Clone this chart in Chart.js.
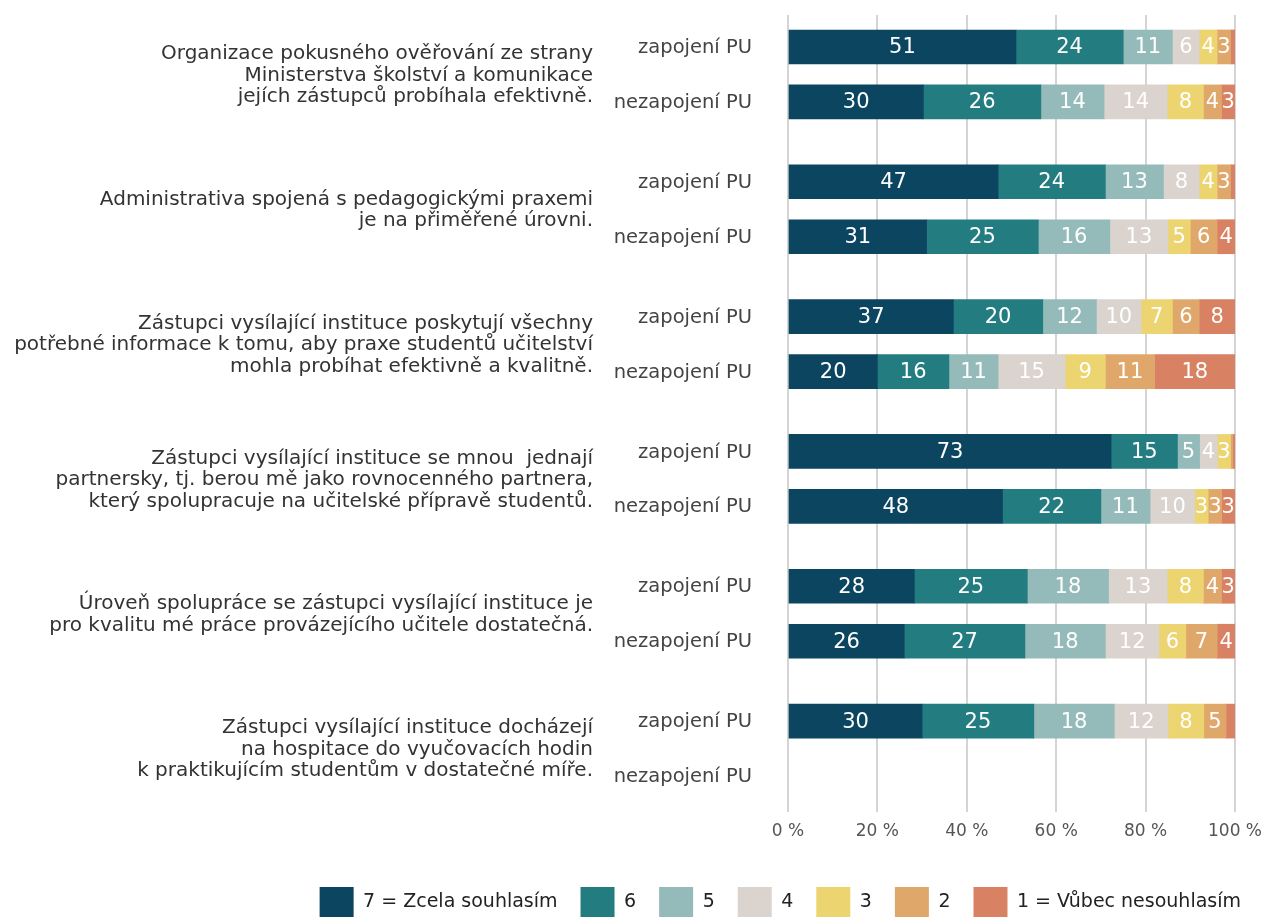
<!DOCTYPE html>
<html lang="cs">
<head>
<meta charset="utf-8">
<title>Spolupráce s vysílající institucí</title>
<script src="https://cdn.jsdelivr.net/npm/chart.js@4.4.1/dist/chart.umd.min.js"></script>
<style>
  html, body { margin: 0; padding: 0; background: #ffffff; }
  #wrap { width: 1264px; height: 918px; }
</style>
</head>
<body>
<div id="wrap"><canvas id="chart" width="1264" height="918"></canvas></div>
<script>
// Statements (each drawn as a right-aligned block of lines)
const statements = [
  ['Organizace pokusného ověřování ze strany', 'Ministerstva školství a komunikace', 'jejích zástupců probíhala efektivně.'],
  ['Administrativa spojená s pedagogickými praxemi', 'je na přiměřené úrovni.'],
  ['Zástupci vysílající instituce poskytují všechny', 'potřebné informace k tomu, aby praxe studentů učitelství', 'mohla probíhat efektivně a kvalitně.'],
  ['Zástupci vysílající instituce se mnou  jednají', 'partnersky, tj. berou mě jako rovnocenného partnera,', 'který spolupracuje na učitelské přípravě studentů.'],
  ['Úroveň spolupráce se zástupci vysílající instituce je', 'pro kvalitu mé práce provázejícího učitele dostatečná.'],
  ['Zástupci vysílající instituce docházejí', 'na hospitace do vyučovacích hodin', 'k praktikujícím studentům v dostatečné míře.']
];

// Respondent groups within each statement
const respondentGroups = ['zapojení PU', 'nezapojení PU'];

// Scale levels and their colours
const levels = ['7 = Zcela souhlasím', '6', '5', '4', '3', '2', '1 = Vůbec nesouhlasím'];
const levelColors = ['#0b4560', '#227c80', '#94bbb9', '#dad3ce', '#ecd471', '#e0a76b', '#d98163'];

// Shares in % per row: statement 1 zapojení, statement 1 nezapojení, statement 2 zapojení, ...
const level7 = [51, 30, 47, 31, 37, 20, 73, 48, 28, 26, 30, null];
const level6 = [24, 26, 24, 25, 20, 16, 15, 22, 25, 27, 25, null];
const level5 = [11, 14, 13, 16, 12, 11, 5, 11, 18, 18, 18, null];
const level4 = [6, 14, 8, 13, 10, 15, 4, 10, 13, 12, 12, null];
const level3 = [4, 8, 4, 5, 7, 9, 3, 3, 8, 6, 8, null];
const level2 = [3, 4, 3, 6, 6, 11, 0.5, 3, 4, 7, 5, null];
const level1 = [1, 3, 1, 4, 8, 18, 0.5, 3, 3, 4, 2, null];

const xTicks = [0, 20, 40, 60, 80, 100];

const levelValues = [level7, level6, level5, level4, level3, level2, level1];
const rowCount = level7.length;

// Vertical placement of rows: two rows per statement, wider gap between statements
const ROW_STEP = 55, GROUP_STEP = 135;
const rowPos = i => Math.floor(i / 2) * GROUP_STEP + (i % 2) * ROW_STEP;

// Row totals, so each answered row fills the full 100 % bar
const rowTotals = Array.from({ length: rowCount }, (_, i) =>
  levelValues.reduce((s, arr) => s + (arr[i] == null ? 0 : arr[i]), 0));

const datasets = levelValues.map((arr, k) => ({
  label: levels[k],
  backgroundColor: levelColors[k],
  borderWidth: 0,
  barThickness: 34,
  data: arr.map((v, i) => v == null ? null : ({ x: v / rowTotals[i] * 100, y: rowPos(i), v: v }))
        .filter(d => d !== null)
}));

const FONT = '"DejaVu Sans", "Noto Sans", sans-serif';

// Value labels inside the bar segments
const segmentLabels = {
  id: 'segmentLabels',
  afterDatasetsDraw(chart) {
    const ctx = chart.ctx;
    ctx.save();
    ctx.font = '21px ' + FONT;
    ctx.fillStyle = '#ffffff';
    ctx.textAlign = 'center';
    ctx.textBaseline = 'middle';
    chart.data.datasets.forEach((ds, di) => {
      const meta = chart.getDatasetMeta(di);
      meta.data.forEach((bar, j) => {
        const v = ds.data[j].v;
        if (v == null || v < 3) return;
        const p = bar.getProps(['x', 'base', 'y'], true);
        ctx.fillText(String(v), (p.x + p.base) / 2, p.y + 1);
      });
    });
    ctx.restore();
  }
};

// Row labels (respondent group) and statement texts centred on their pair of rows
const rowLabels = {
  id: 'rowLabels',
  afterDraw(chart) {
    const ctx = chart.ctx;
    const y = chart.scales.y;
    ctx.save();
    ctx.textAlign = 'right';
    ctx.textBaseline = 'middle';

    ctx.font = '19.5px ' + FONT;
    ctx.fillStyle = '#444444';
    for (let i = 0; i < rowCount; i++) {
      ctx.fillText(respondentGroups[i % 2], 752, y.getPixelForValue(rowPos(i)) + 1);
    }

    ctx.font = '20px ' + FONT;
    ctx.fillStyle = '#333333';
    const lineH = 21.5;
    statements.forEach((lines, g) => {
      const cy = (y.getPixelForValue(rowPos(2 * g)) + y.getPixelForValue(rowPos(2 * g + 1))) / 2;
      const top = cy - (lines.length - 1) * lineH / 2;
      lines.forEach((t, li) => ctx.fillText(t, 593, top + li * lineH + 1));
    });
    ctx.restore();
  }
};

new Chart(document.getElementById('chart'), {
  type: 'bar',
  data: { datasets },
  plugins: [segmentLabels, rowLabels],
  options: {
    responsive: false,
    animation: false,
    indexAxis: 'y',
    layout: { padding: { top: 15, right: 0, bottom: -9, left: 0 } },
    plugins: {
      legend: {
        position: 'bottom',
        align: 'end',
        labels: {
          boxWidth: 34,
          boxHeight: 30,
          padding: 23,
          color: '#222222',
          font: { family: FONT, size: 19 }
        }
      },
      tooltip: { enabled: false }
    },
    scales: {
      x: {
        type: 'linear',
        stacked: true,
        min: 0,
        max: 100,
        afterBuildTicks: s => { s.ticks = xTicks.map(v => ({ value: v })); },
        afterFit: s => { s.height = 52; s.paddingRight = 29; },
        ticks: {
          padding: 9,
          color: '#555555',
          font: { family: FONT, size: 17 },
          callback: v => v + ' %'
        },
        grid: { color: '#d4d4d4', lineWidth: 2, drawTicks: false },
        border: { display: false }
      },
      y: {
        type: 'linear',
        stacked: true,
        reverse: true,
        offset: false,
        grace: 0,
        min: -32,
        max: rowPos(rowCount - 1) + 36,
        afterFit: s => { s.width = 788; },
        ticks: { display: false },
        grid: { display: false, drawTicks: false, offset: false },
        border: { display: false }
      }
    }
  }
});
</script>
</body>
</html>
